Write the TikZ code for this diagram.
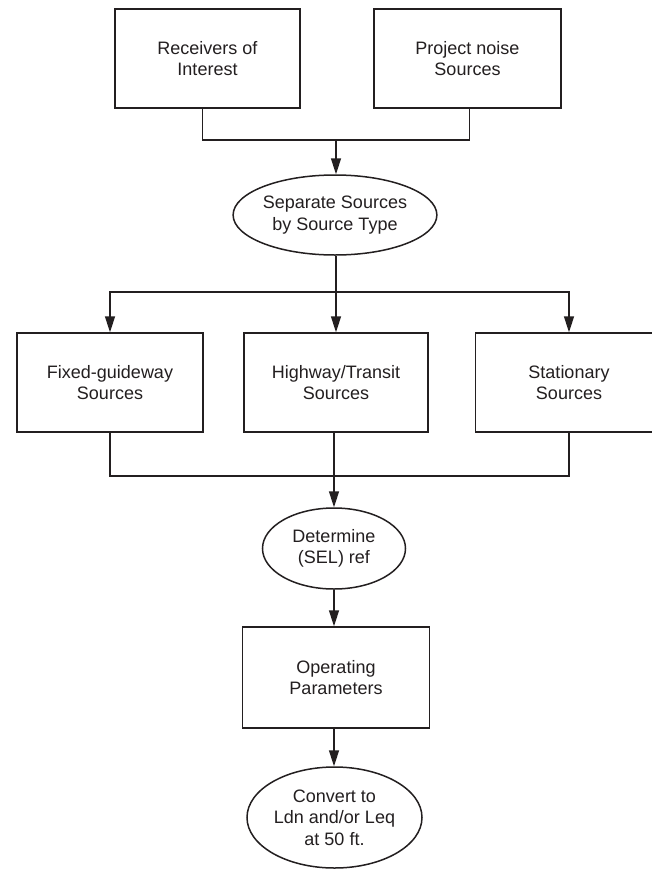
\documentclass[tikz,border=0pt]{standalone}
\usepackage{fontspec}
\setmainfont{Liberation Sans}
\usetikzlibrary{shapes.geometric,arrows.meta}
\definecolor{ink}{HTML}{231F20}
\begin{document}
\begin{tikzpicture}[x=1pt,y=-1pt,
  every node/.style={font=\fontsize{18}{21.5}\selectfont, text=ink, align=center},
  boxnode/.style={draw=ink, line width=1.5pt, rectangle, inner sep=0pt, minimum height=99pt},
  ovalnode/.style={draw=ink, line width=1.5pt, ellipse, inner sep=0pt},
  wire/.style={draw=ink, line width=1.5pt},
  arr/.style={wire, -{Triangle[length=16pt,width=10pt]}}]
\useasboundingbox (0,0) rectangle (652,871);
\fill[white] (0,0) rectangle (652,871);
\node[boxnode, minimum width=185pt] (rec) at (207.5,58.5) {Receivers of\\Interest};
\node[boxnode, minimum width=187pt] (proj) at (467.5,58.5) {Project noise\\Sources};
\node[ovalnode, minimum width=179pt, minimum height=80pt] (sep) at (335,215) {Separate Sources\\by Source Type};
\node[boxnode, minimum width=186pt] (fixed) at (110,382.5) {Fixed-guideway\\Sources};
\node[boxnode, minimum width=184pt] (hw) at (336,382.5) {Highway/Transit\\Sources};
\node[boxnode, minimum width=187pt] (stat) at (569,382.5) {Stationary\\Sources};
\node[ovalnode, minimum width=143pt, minimum height=81pt] (det) at (334,548.5) {Determine\\(SEL) ref};
\node[boxnode, minimum width=187pt, minimum height=101pt] (op) at (336,677.5) {Operating\\Parameters};
\node[ovalnode, minimum width=175pt, minimum height=101pt] (conv) at (334.5,817.5) {Convert to\\Ldn and/or Leq\\at 50 ft.};
\coordinate (j1) at (336,140);
\coordinate (j2) at (336,292);
\coordinate (j3) at (334,476);
\draw[wire] ([xshift=-5pt]rec.south) |- (j1) -| ([xshift=2pt]proj.south);
\draw[arr] (j1) -- (sep.north -| j1);
\draw[wire] (sep.south -| j2) -- (j2);
\draw[arr] (j2) -| (fixed.north);
\draw[arr] (j2) -- (hw.north -| j2);
\draw[arr] (j2) -| (stat.north);
\draw[wire] (fixed.south) |- (j3);
\draw[wire] (stat.south) |- (j3);
\draw[wire] (hw.south -| j3) -- (j3);
\draw[arr] (j3) -- (det.north -| j3);
\draw[arr] (det.south -| j3) -- (op.north -| j3);
\draw[arr] (op.south -| j3) -- (conv.north -| j3);
\end{tikzpicture}
\end{document}
